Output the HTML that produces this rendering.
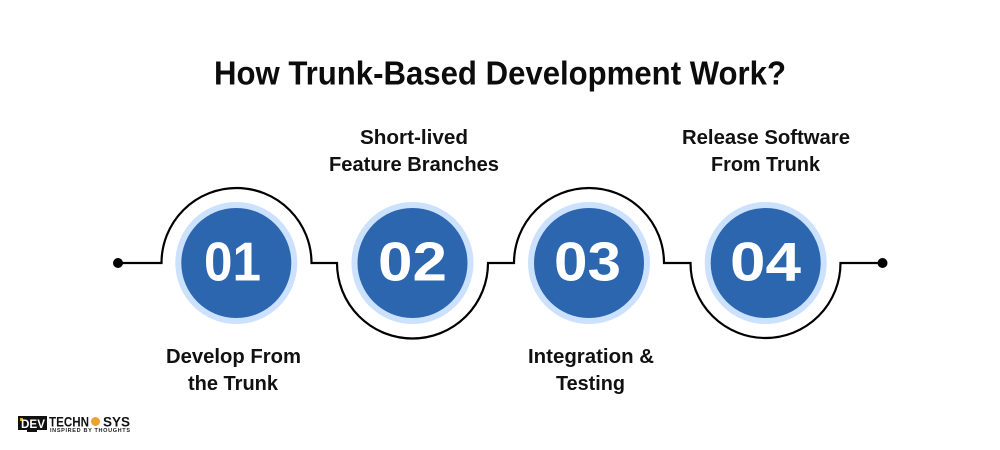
<!DOCTYPE html>
<html>
<head>
<meta charset="utf-8">
<style>
html,body{margin:0;padding:0;background:#fff;width:1000px;height:450px;overflow:hidden}
svg{display:block}
text{font-family:"Liberation Sans",sans-serif}
.t{font-size:20px;font-weight:bold;fill:#111;stroke:none}
.n{font-size:55px;font-weight:bold;fill:#fff;text-anchor:middle}
</style>
</head>
<body>
<svg width="1000" height="450" viewBox="0 0 1000 450" xmlns="http://www.w3.org/2000/svg">
<rect width="1000" height="450" fill="#fff"/>
<text x="214" y="84.500" font-size="33.500" font-weight="bold" fill="#0c0c0c" textLength="572" lengthAdjust="spacingAndGlyphs">How Trunk-Based Development Work?</text>

<path d="M118 263H161.500A75 75 0 0 1 311.500 263H337A75.500 75.500 0 0 0 488 263H514A75 75 0 0 1 664 263H690.500A75 75 0 0 0 840.500 263H882" fill="none" stroke="#000" stroke-width="2.200"/>
<circle cx="118" cy="263" r="5" fill="#000"/>
<circle cx="882.500" cy="263" r="5" fill="#000"/>

<g fill="#cbe1fd">
<circle cx="236.300" cy="263" r="61"/>
<circle cx="412.500" cy="263" r="61"/>
<circle cx="589" cy="263" r="61"/>
<circle cx="765.700" cy="263" r="61"/>
</g>
<g fill="#2c66ae">
<circle cx="236.300" cy="263" r="55"/>
<circle cx="412.500" cy="263" r="55"/>
<circle cx="589" cy="263" r="55"/>
<circle cx="765.700" cy="263" r="55"/>
</g>
<text class="n" x="232.500" y="280.500" textLength="57" lengthAdjust="spacingAndGlyphs">01</text>
<text class="n" x="412.500" y="280.500" textLength="69" lengthAdjust="spacingAndGlyphs">02</text>
<text class="n" x="587.500" y="280.500" textLength="67" lengthAdjust="spacingAndGlyphs">03</text>
<text class="n" x="765.500" y="280.500" textLength="71" lengthAdjust="spacingAndGlyphs">04</text>

<text class="t" x="360" y="144" textLength="108" lengthAdjust="spacingAndGlyphs">Short-lived</text>
<text class="t" x="329" y="171" textLength="170" lengthAdjust="spacingAndGlyphs">Feature Branches</text>
<text class="t" x="682" y="144" textLength="168" lengthAdjust="spacingAndGlyphs">Release Software</text>
<text class="t" x="711" y="171" textLength="109" lengthAdjust="spacingAndGlyphs">From Trunk</text>
<text class="t" x="166" y="363" textLength="135" lengthAdjust="spacingAndGlyphs">Develop From</text>
<text class="t" x="188" y="390" textLength="90" lengthAdjust="spacingAndGlyphs">the Trunk</text>
<text class="t" x="528" y="363" textLength="126" lengthAdjust="spacingAndGlyphs">Integration &amp;</text>
<text class="t" x="556" y="390" textLength="69" lengthAdjust="spacingAndGlyphs">Testing</text>

<rect x="18" y="416" width="29" height="14" fill="#111"/>
<rect x="27" y="430" width="10" height="2" fill="#111"/>
<rect x="20" y="418" width="3" height="3" fill="#f0a030"/>
<text x="21" y="428" font-size="12" font-weight="bold" fill="#fff" textLength="24" lengthAdjust="spacingAndGlyphs">DEV</text>
<text x="49" y="426.500" font-size="13.500" font-weight="bold" fill="#111" textLength="40" lengthAdjust="spacingAndGlyphs">TECHN</text>
<circle cx="95.500" cy="421.500" r="4.500" fill="#f0a030"/>
<text x="103" y="426.500" font-size="13.500" font-weight="bold" fill="#111" textLength="27" lengthAdjust="spacingAndGlyphs">SYS</text>
<text x="50" y="432" font-size="5.500" font-weight="bold" fill="#222" textLength="80" lengthAdjust="spacing">INSPIRED BY THOUGHTS</text>
</svg>
</body>
</html>
